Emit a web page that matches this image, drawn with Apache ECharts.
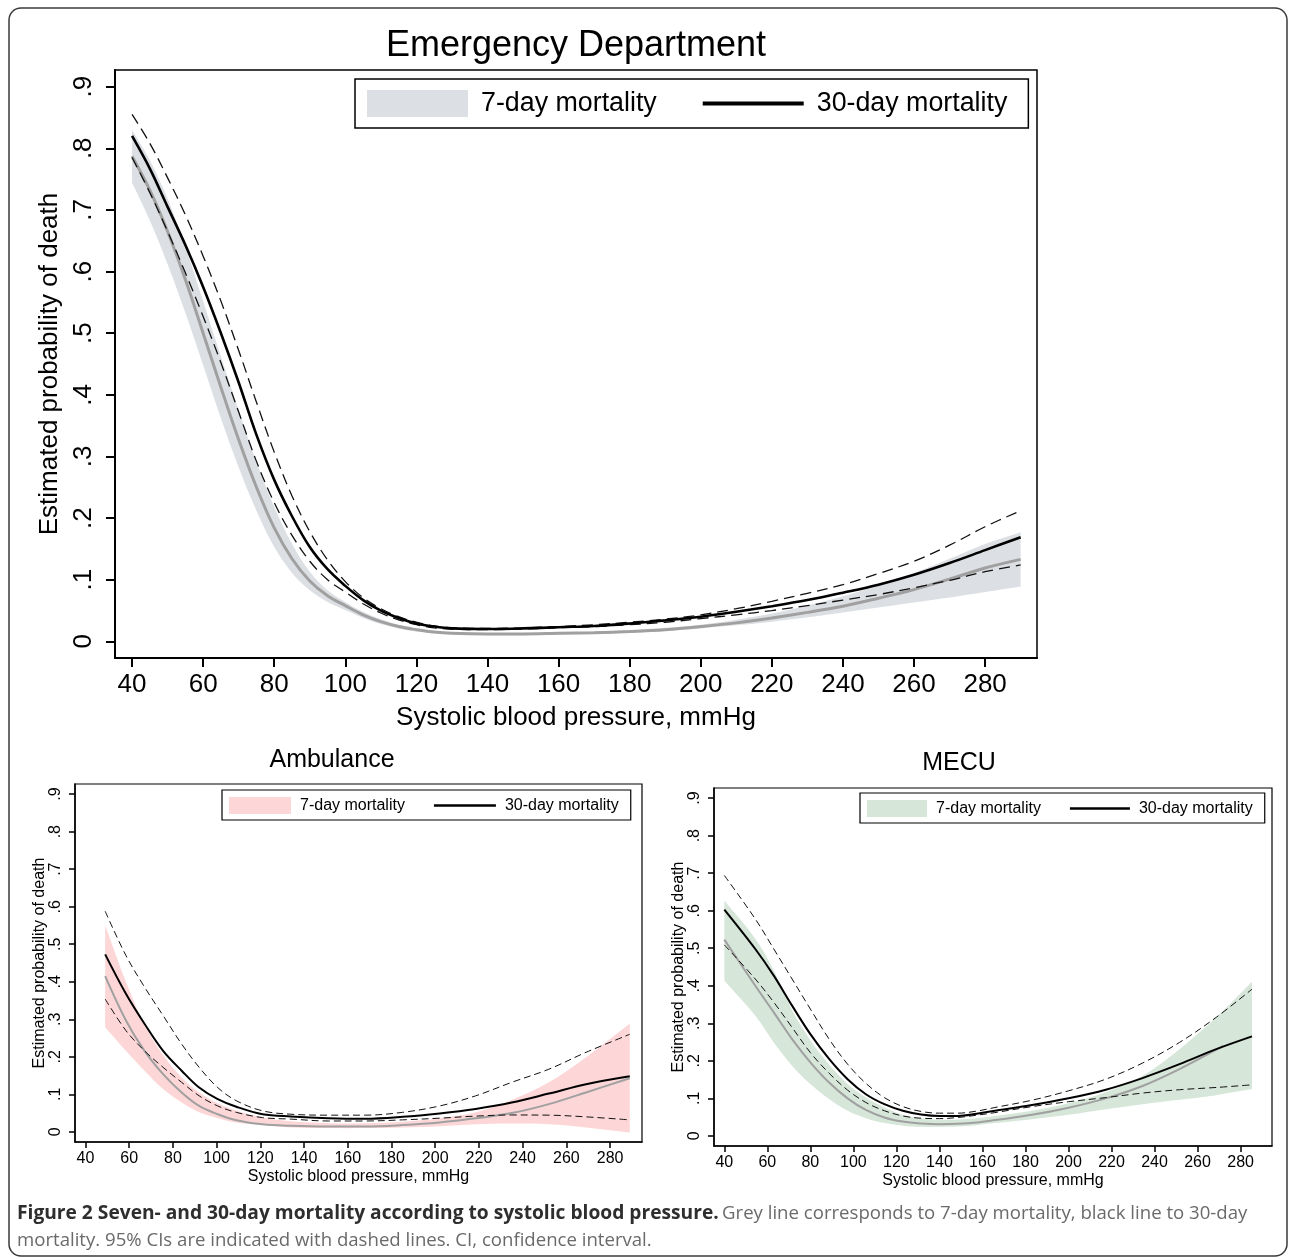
<!DOCTYPE html>
<html><head><meta charset="utf-8">
<script src="https://cdn.jsdelivr.net/npm/echarts@6/dist/echarts.min.js"></script>
<style>html,body{margin:0;padding:0;background:#fff}#c{width:1292px;height:1259px}</style>
</head><body><div id="c"></div>
<script>
// ---------- tick labels ----------
const xTicks = [40,60,80,100,120,140,160,180,200,220,240,260,280];
const yTicks = [0,0.1,0.2,0.3,0.4,0.5,0.6,0.7,0.8,0.9];

// ---------- Emergency Department ----------
const edX = [40,45,50,55,60,65,70,75,80,85,90,95,100,105,110,115,120,125,130,140,150,160,170,180,190,200,210,220,230,240,250,260,270,280,290];
const ed30 = [0.820,0.767,0.705,0.643,0.575,0.500,0.420,0.335,0.262,0.203,0.153,0.117,0.090,0.067,0.050,0.038,0.029,0.024,0.021,0.020,0.021,0.023,0.025,0.029,0.034,0.040,0.048,0.057,0.067,0.079,0.092,0.108,0.127,0.148,0.169];
const ed30Hi = [0.855,0.808,0.752,0.692,0.625,0.552,0.472,0.388,0.307,0.236,0.178,0.132,0.097,0.071,0.053,0.040,0.031,0.025,0.022,0.021,0.022,0.024,0.027,0.031,0.036,0.043,0.053,0.065,0.078,0.092,0.110,0.130,0.156,0.186,0.212];
const ed30Lo = [0.785,0.728,0.665,0.598,0.527,0.452,0.372,0.292,0.225,0.172,0.130,0.100,0.080,0.061,0.046,0.035,0.027,0.022,0.020,0.019,0.020,0.022,0.024,0.027,0.031,0.037,0.043,0.050,0.058,0.067,0.076,0.087,0.099,0.113,0.124];
const ed7 = [0.787,0.732,0.665,0.587,0.500,0.412,0.327,0.250,0.184,0.134,0.098,0.074,0.058,0.043,0.032,0.024,0.019,0.015,0.013,0.012,0.012,0.013,0.014,0.016,0.019,0.024,0.030,0.038,0.047,0.057,0.070,0.084,0.101,0.119,0.133];
const ed7Hi = [0.830,0.780,0.718,0.640,0.552,0.462,0.375,0.291,0.218,0.158,0.113,0.083,0.064,0.048,0.036,0.027,0.021,0.017,0.015,0.013,0.013,0.014,0.016,0.018,0.022,0.027,0.035,0.045,0.058,0.073,0.091,0.111,0.134,0.158,0.177];
const ed7Lo = [0.744,0.683,0.612,0.533,0.448,0.362,0.282,0.212,0.153,0.111,0.083,0.064,0.051,0.038,0.028,0.021,0.016,0.013,0.011,0.010,0.010,0.011,0.012,0.014,0.017,0.021,0.026,0.032,0.039,0.047,0.055,0.063,0.071,0.080,0.089];

// ---------- Ambulance ----------
const ambX = [49,58.5,67,75.5,84,92,100.5,109,121,134,151,168,185,202,218.5,235,252,269,289];
const amb30 = [0.473,0.368,0.288,0.216,0.163,0.118,0.087,0.067,0.047,0.041,0.0365,0.035,0.040,0.049,0.061,0.078,0.102,0.127,0.148];
const amb30Hi = [0.588,0.470,0.386,0.310,0.234,0.172,0.118,0.083,0.056,0.047,0.0445,0.0445,0.052,0.069,0.096,0.132,0.167,0.212,0.260];
const amb30Lo = [0.354,0.270,0.216,0.172,0.132,0.096,0.069,0.052,0.038,0.034,0.029,0.029,0.032,0.0365,0.042,0.045,0.0445,0.040,0.032];
const amb7 = [0.415,0.297,0.216,0.154,0.105,0.069,0.047,0.031,0.020,0.016,0.014,0.014,0.018,0.025,0.036,0.050,0.074,0.105,0.143];
const amb7Hi = [0.550,0.400,0.285,0.205,0.145,0.105,0.076,0.056,0.038,0.028,0.023,0.023,0.027,0.0365,0.052,0.085,0.132,0.199,0.288];
const amb7Lo = [0.279,0.216,0.163,0.114,0.078,0.052,0.0365,0.025,0.018,0.0116,0.010,0.010,0.0116,0.015,0.020,0.022,0.020,0.0116,-0.002];

// ---------- MECU ----------
const mecX = [40,54.4,63,71.5,80,88.7,97.3,105.8,114.4,123,131.5,140,148.7,157.3,165.8,183,200,217.3,234.4,251.6,268.7,285.3];
const mec30 = [0.603,0.498,0.427,0.347,0.271,0.205,0.151,0.111,0.0845,0.067,0.057,0.053,0.053,0.059,0.067,0.082,0.100,0.123,0.154,0.191,0.231,0.265];
const mec30Hi = [0.694,0.578,0.498,0.418,0.338,0.258,0.191,0.140,0.102,0.078,0.065,0.0605,0.0605,0.066,0.0756,0.095,0.120,0.151,0.194,0.249,0.316,0.391];
const mec30Lo = [0.509,0.418,0.356,0.289,0.222,0.167,0.122,0.089,0.067,0.053,0.047,0.046,0.049,0.055,0.062,0.078,0.091,0.102,0.114,0.123,0.129,0.136];
const mec7X = [40,54.4,63,71.5,80,88.7,97.3,105.8,114.4,123,131.5,140,148.7,157.3,165.8,183,200,217.3,234.4,251.6,268.7,272];
const mec7 = [0.523,0.400,0.329,0.258,0.196,0.142,0.100,0.069,0.049,0.038,0.033,0.031,0.032,0.0356,0.042,0.056,0.075,0.100,0.133,0.178,0.230,0.240];
const mec7Hi = [0.627,0.525,0.440,0.335,0.255,0.190,0.138,0.102,0.0756,0.056,0.046,0.043,0.0436,0.047,0.053,0.067,0.087,0.116,0.160,0.231,0.316,0.411];
const mec7Lo = [0.414,0.320,0.249,0.187,0.138,0.098,0.067,0.047,0.034,0.027,0.024,0.024,0.025,0.0285,0.034,0.0445,0.056,0.071,0.0845,0.096,0.1085,0.1246];

// ---------- build ----------
const FONT = "'Liberation Sans', Arial, Helvetica, sans-serif";
const X_MIN = 35.2, X_MAX = 294.6, Y_MIN = -0.027, Y_MAX = 0.927;
const SMOOTH = 0.35;
const pairs = (xs, ys) => xs.map((x, i) => [x, ys[i]]);
const yFmt = v => (v === 0 ? '0' : String(v).replace(/^0/, ''));

// smooth path through pixel points (bezier, similar to ECharts line smoothing)
function smoothSeg(pts, first) {
  let d = first ? 'M' + pts[0][0] + ',' + pts[0][1] : 'L' + pts[0][0] + ',' + pts[0][1];
  const n = pts.length;
  for (let i = 0; i < n - 1; i++) {
    const p0 = pts[Math.max(i - 1, 0)], p1 = pts[i], p2 = pts[i + 1], p3 = pts[Math.min(i + 2, n - 1)];
    const d1 = Math.hypot(p2[0] - p1[0], p2[1] - p1[1]);
    const da = Math.hypot(p1[0] - p0[0], p1[1] - p0[1]) + d1;
    const db = d1 + Math.hypot(p3[0] - p2[0], p3[1] - p2[1]);
    const ka = da ? SMOOTH * d1 / da : 0, kb = db ? SMOOTH * d1 / db : 0;
    const c1 = [p1[0] + (p2[0] - p0[0]) * ka, p1[1] + (p2[1] - p0[1]) * ka];
    const c2 = [p2[0] - (p3[0] - p1[0]) * kb, p2[1] - (p3[1] - p1[1]) * kb];
    d += 'C' + c1[0] + ',' + c1[1] + ',' + c2[0] + ',' + c2[1] + ',' + p2[0] + ',' + p2[1];
  }
  return d;
}

const panels = [
  {x: edX, m30: ed30, hi30: ed30Hi, lo30: ed30Lo, x7: edX, m7: ed7, bx: edX, hi7: ed7Hi, lo7: ed7Lo,
   band: '#dcdfe3', grid: {left:115, top:70, width:922, height:588},
   fs: 26, tick: 9, lw30: 2.6, lw7: 3, dash: [11,6], dlw: 1.3, axW: 2, labM: 14, yLabM: 18,
   xName: 47, yName: 42, legend: {left:355, top:79, pad:[11,21,11,12], iw:101, ih:27, gap:46, fs:26.8, lineH:4}},
  {x: ambX, m30: amb30, hi30: amb30Hi, lo30: amb30Lo, x7: ambX, m7: amb7, bx: ambX, hi7: amb7Hi, lo7: amb7Lo,
   band: '#fdd6d7', grid: {left:75, top:784, width:567, height:358},
   fs: 16, tick: 6, lw30: 2, lw7: 2, dash: [7,4], dlw: 1, axW: 1.5, labM: 9, yLabM: 11,
   xName: 27, yName: 26, legend: {left:222, top:790, pad:[7,12,6,7], iw:62, ih:17, gap:29, fs:16, lineH:2.5}},
  {x: mecX, m30: mec30, hi30: mec30Hi, lo30: mec30Lo, x7: mec7X, m7: mec7, bx: mecX, hi7: mec7Hi, lo7: mec7Lo,
   band: '#d6e6d8', grid: {left:714, top:788, width:558, height:358},
   fs: 16, tick: 6, lw30: 2, lw7: 2, dash: [7,4], dlw: 1, axW: 1.5, labM: 9, yLabM: 11,
   xName: 27, yName: 26, legend: {left:860, top:793, pad:[7,12,6,7], iw:60, ih:17, gap:29, fs:16, lineH:2.5}}
];

const grids = [], xAxes = [], yAxes = [], series = [], legends = [];
panels.forEach((p, k) => {
  grids.push(Object.assign({show: true, borderColor: '#000', borderWidth: k === 0 ? 1.5 : 1.2, backgroundColor: '#fff'}, p.grid));
  xAxes.push({
    gridIndex: k, type: 'value', min: X_MIN, max: X_MAX, z: 10,
    name: 'Systolic blood pressure, mmHg', nameLocation: 'middle', nameGap: p.xName,
    nameTextStyle: {fontSize: p.fs, color: '#000', fontFamily: FONT},
    axisLine: {show: true, onZero: false, lineStyle: {color: '#000', width: p.axW}},
    axisTick: {show: true, length: p.tick, customValues: xTicks, lineStyle: {color: '#000', width: p.axW}},
    axisLabel: {customValues: xTicks, margin: p.labM, fontSize: p.fs, color: '#000', fontFamily: FONT},
    splitLine: {show: false}
  });
  yAxes.push({
    gridIndex: k, type: 'value', min: Y_MIN, max: Y_MAX, z: 10,
    name: 'Estimated probability of death', nameLocation: 'middle', nameGap: p.yName, nameRotate: 90,
    nameTextStyle: {fontSize: p.fs, color: '#000', fontFamily: FONT},
    axisLine: {show: true, onZero: false, lineStyle: {color: '#000', width: p.axW}},
    axisTick: {show: true, length: p.tick, customValues: yTicks, lineStyle: {color: '#000', width: p.axW}},
    axisLabel: {customValues: yTicks, formatter: yFmt, rotate: 90, margin: p.yLabM, fontSize: p.fs, color: '#000', fontFamily: FONT},
    splitLine: {show: false}
  });
  const common = {xAxisIndex: k, yAxisIndex: k, type: 'line', symbol: 'none', showSymbol: false, smooth: SMOOTH, silent: true, animation: false};
  // 7-day CI band (custom polygon between the lower and upper bounds, via axis coords)
  const bandRows = p.bx.map((x, i) => [x, p.lo7[i], p.hi7[i]]);
  series.push({
    type: 'custom', name: '7-day mortality', xAxisIndex: k, yAxisIndex: k, silent: true, animation: false, z: 1,
    itemStyle: {color: p.band},
    encode: {x: 0, y: [1, 2]},
    data: bandRows,
    renderItem: (params, api) => {
      if (params.dataIndex !== 0) return null;
      const up = bandRows.map(r => api.coord([r[0], r[2]]));
      const lo = bandRows.map(r => api.coord([r[0], r[1]])).reverse();
      const d = smoothSeg(up, true) + smoothSeg(lo, false) + 'Z';
      return {type: 'path', shape: {pathData: d}, style: {fill: p.band, stroke: null}};
    }
  });
  // 7-day estimate (grey)
  series.push(Object.assign({}, common, {name: '7-day estimate ' + k, data: pairs(p.x7, p.m7), lineStyle: {color: '#a0a0a0', width: p.lw7}, z: 2}));
  // 30-day CI (dashed)
  series.push(Object.assign({}, common, {name: '30-day upper ' + k, data: pairs(p.x, p.hi30), lineStyle: {color: '#111', width: p.dlw, type: p.dash}, z: 3}));
  series.push(Object.assign({}, common, {name: '30-day lower ' + k, data: pairs(p.x, p.lo30), lineStyle: {color: '#111', width: p.dlw, type: p.dash}, z: 3}));
  // 30-day estimate (black)
  series.push(Object.assign({}, common, {name: '30-day mortality', data: pairs(p.x, p.m30), lineStyle: {color: '#000', width: p.lw30}, itemStyle: {color: '#000'}, z: 4}));
  const L = p.legend;
  legends.push({
    left: L.left, top: L.top, orient: 'horizontal', padding: L.pad, itemGap: L.gap,
    itemWidth: L.iw, itemHeight: L.ih, symbolKeepAspect: true, selectedMode: false,
    borderColor: '#000', borderWidth: k === 0 ? 1.5 : 1.2, backgroundColor: '#fff', z: 12,
    textStyle: {fontSize: L.fs, color: '#000', fontFamily: FONT, padding: [0, 0, 0, k === 0 ? 8 : 4]},
    data: [
      {name: '7-day mortality', icon: 'rect', itemStyle: {color: p.band, borderWidth: 0}},
      {name: '30-day mortality', icon: 'path://M0,0H100V' + (L.lineH * 100 / L.iw).toFixed(2) + 'H0Z', itemStyle: {color: '#000', borderWidth: 0}}
    ]
  });
});

const chart = echarts.init(document.getElementById('c'), null, {renderer: 'canvas'});
chart.setOption({
  backgroundColor: '#fff',
  animation: false,
  title: [
    {text: 'Emergency Department', left: 576, top: 28, textAlign: 'center', padding: 0, textStyle: {fontSize: 36, fontWeight: 'normal', color: '#000', fontFamily: FONT}},
    {text: 'Ambulance', left: 332, top: 748, textAlign: 'center', padding: 0, textStyle: {fontSize: 25, fontWeight: 'normal', color: '#000', fontFamily: FONT}},
    {text: 'MECU', left: 959, top: 751, textAlign: 'center', padding: 0, textStyle: {fontSize: 25, fontWeight: 'normal', color: '#000', fontFamily: FONT}}
  ],
  legend: legends,
  grid: grids,
  xAxis: xAxes,
  yAxis: yAxes,
  series: series,
  graphic: [
    {type: 'rect', shape: {x: 9, y: 8, width: 1278, height: 1248, r: 12}, style: {fill: 'none', stroke: '#3a3a3a', lineWidth: 1.5}, silent: true, z: 20},
    {type: 'text', left: 17, top: 1204, silent: true, z: 20,
     style: {
       text: '{b|Figure 2 Seven- and 30-day mortality according to systolic blood pressure.} {r|Grey line corresponds to 7-day mortality, black line to 30-day}\n{r|mortality. 95% CIs are indicated with dashed lines. CI, confidence interval.}',
       rich: {
         b: {fontFamily: "'Open Sans', sans-serif", fontWeight: 'bold', fontSize: 19.2, fill: '#2e2e2e', lineHeight: 27},
         r: {fontFamily: "'Open Sans', sans-serif", fontSize: 18.6, fill: '#6a6a6a', lineHeight: 27}
       }
     }}
  ]
});
</script></body></html>
